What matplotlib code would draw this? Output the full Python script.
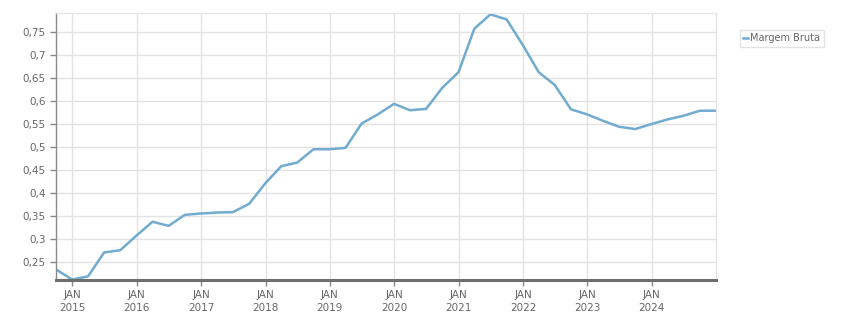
# Margem Bruta - quarterly line chart

import numpy as np
import pandas as pd
import matplotlib
matplotlib.use("Agg")
import matplotlib.pyplot as plt
import matplotlib.dates as mdates
from matplotlib.ticker import FuncFormatter

# Data (quarter-end dates)
dates = pd.date_range("2014-09-30", "2024-12-31", freq="QE")
margem = [0.233, 0.211, 0.218, 0.270, 0.275, 0.307, 0.337, 0.328,
          0.352, 0.355, 0.357, 0.358, 0.376, 0.421, 0.458, 0.466,
          0.495, 0.495, 0.498, 0.551, 0.571, 0.594, 0.580, 0.583,
          0.629, 0.663, 0.758, 0.789, 0.778, 0.722, 0.663, 0.635,
          0.582, 0.571, 0.557, 0.544, 0.539, 0.550, 0.560, 0.568,
          0.579, 0.579]
yticks = [0.25, 0.3, 0.35, 0.4, 0.45, 0.5, 0.55, 0.6, 0.65, 0.7, 0.75]
years = list(range(2015, 2025))

line_color = "#72abd0"
grid_color = "#e3e3e3"
text_color = "#666666"

fig = plt.figure(figsize=(8.51, 3.13), dpi=100)
ax = fig.add_axes([56 / 851, 1 - 280 / 313, (716 - 56) / 851, (280 - 13) / 313])

ax.plot(dates, margem, color=line_color, lw=1.8, label="Margem Bruta")

ax.set_xlim(dates[0], dates[-1])
ax.set_ylim(0.210, 0.792)

ax.set_yticks(yticks)
ax.yaxis.set_major_formatter(FuncFormatter(lambda v, p: ("%g" % v).replace(".", ",")))
ax.set_xticks([pd.Timestamp(f"{y}-01-01") for y in years])
ax.set_xticklabels([f"JAN\n{y}" for y in years], linespacing=1.45)

ax.grid(True, color=grid_color, lw=1)
ax.set_axisbelow(True)
ax.tick_params(axis="both", colors="#888888", labelcolor=text_color, labelsize=7.5, length=4, width=1)
ax.tick_params(axis="x", pad=3)

for s in ["top", "right"]:
    ax.spines[s].set_color(grid_color)
ax.spines["left"].set_color("#8a8a8a")
ax.spines["left"].set_linewidth(1)
ax.spines["bottom"].set_color("#6e6e6e")
ax.spines["bottom"].set_linewidth(2.2)

leg = fig.legend(loc="upper left", bbox_to_anchor=(740 / 851, 1 - 30 / 313),
                 fontsize=7, frameon=True, fancybox=False, handlelength=0.5,
                 handletextpad=0.2, borderpad=0.35, borderaxespad=0,
                 labelcolor=text_color)
leg.get_frame().set_edgecolor("#dddddd")
leg.get_frame().set_linewidth(1)

fig.savefig("out.png", dpi=100)
